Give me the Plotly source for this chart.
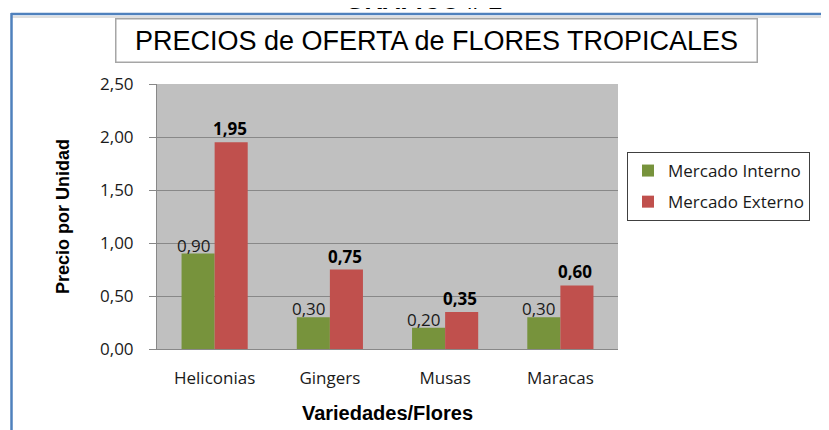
import plotly.graph_objects as go

categorias = ["Heliconias", "Gingers", "Musas", "Maracas"]
mercado_interno = [0.90, 0.30, 0.20, 0.30]
mercado_externo = [1.95, 0.75, 0.35, 0.60]
series_nombres = ["Mercado Interno", "Mercado Externo"]
titulo = "PRECIOS de OFERTA de FLORES TROPICALES"
supertitulo = "GRAFICO # 1"
titulo_y = "Precio por Unidad"
titulo_x = "Variedades/Flores"

VERDE = "#77933C"
ROJO = "#C0504D"
GRID = "#888888"

# page offset (browser body margin)
OFF = 8
# plot area in page px
PL, PR, PT, PB = 157, 618, 84, 349
W, H = 829 - OFF, 430 - OFF
L, R, T, B = PL - OFF, PR - OFF, PT - OFF, PB - OFF

def xp(px):
    return (px - PL) / (PR - PL)
def yp(py):
    return (PB - py) / (PB - PT)

fig = go.Figure()
fig.add_bar(x=categorias, y=mercado_interno, name=series_nombres[0],
            marker=dict(color=VERDE, line=dict(width=0)), legendgroup="a")
fig.add_bar(x=categorias, y=mercado_externo, name=series_nombres[1],
            marker=dict(color=ROJO, line=dict(width=0)), legendgroup="b")

annotations = []
for c, v in zip(categorias, mercado_interno):
    annotations.append(dict(x=c, y=v, xref="x", yref="y", text=f"{v:.2f}".replace(".", ","),
                            showarrow=False, xanchor="center", yanchor="bottom",
                            xshift=-21, yshift=-5,
                            font=dict(family="Open Sans", size=17, color="#1a1a1a")))
for c, v in zip(categorias, mercado_externo):
    annotations.append(dict(x=c, y=v, xref="x", yref="y", text="<b>" + f"{v:.2f}".replace(".", ",") + "</b>",
                            showarrow=False, xanchor="center", yanchor="bottom",
                            xshift=15, yshift=0,
                            font=dict(family="Open Sans", size=17, color="#000000")))

# chart title box
annotations.append(dict(x=xp(436.5), y=yp(40.5), xref="paper", yref="paper",
                        text=titulo, showarrow=False, xanchor="center", yanchor="middle",
                        width=640, height=42, bordercolor="#A6A6A6", borderwidth=1.5, borderpad=0,
                        bgcolor="white",
                        font=dict(family="Liberation Sans, Arial", size=27, color="#000000")))
# cut-off super title at very top
annotations.append(dict(x=xp(423), y=yp(16.5), xref="paper", yref="paper",
                        text="<b>" + supertitulo + "</b>", showarrow=False,
                        xanchor="center", yanchor="bottom",
                        font=dict(family="Liberation Sans, Arial", size=25, color="#000000")))

shapes = [
    dict(type="line", xref="paper", yref="paper", x0=xp(11), x1=xp(840), y0=yp(14), y1=yp(14),
         line=dict(color="#4F81BD", width=2.5)),
    dict(type="line", xref="paper", yref="paper", x0=xp(11), x1=xp(840), y0=yp(17), y1=yp(17),
         line=dict(color="#BFBFBF", width=1)),
    dict(type="line", xref="paper", yref="paper", x0=xp(11.5), x1=xp(11.5), y0=yp(13), y1=yp(440),
         line=dict(color="#4F81BD", width=2.5)),
]

fig.update_layout(
    width=W, height=H,
    margin=dict(l=L, r=W - R, t=T, b=H - B, autoexpand=False),
    paper_bgcolor="white",
    plot_bgcolor="#C0C0C0",
    separators=", ",
    barmode="group",
    bargap=0.426,
    bargroupgap=0,
    showlegend=True,
    legend=dict(x=xp(627), y=yp(152), xanchor="left", yanchor="top",
                bordercolor="#404040", borderwidth=1, bgcolor="white",
                font=dict(family="Open Sans", size=17, color="#1a1a1a"),
                traceorder="grouped", tracegroupgap=6),
    annotations=annotations,
    shapes=shapes,
    xaxis=dict(showline=True, linecolor=GRID, linewidth=1, ticks="", showgrid=False,
               tickfont=dict(family="Open Sans", size=17, color="#1a1a1a"),
               ticklabelstandoff=14,
               title=dict(text="<b>" + titulo_x + "</b>", standoff=17,
                          font=dict(family="Liberation Sans, Arial", size=20, color="#000000"))),
    yaxis=dict(range=[0, 2.5], dtick=0.5, tick0=0, tickformat=".2f",
               showgrid=True, gridcolor=GRID, gridwidth=1, zeroline=False,
               showline=True, linecolor=GRID, linewidth=1,
               ticks="outside", ticklen=7, tickcolor=GRID,
               tickfont=dict(family="Open Sans", size=17, color="#1a1a1a"),
               ticklabelstandoff=12,
               title=dict(text="<b>" + titulo_y + "</b>", standoff=25,
                          font=dict(family="Liberation Sans Narrow, Liberation Sans, Arial", size=18, color="#000000"))),
)

fig.write_html("out.html")
